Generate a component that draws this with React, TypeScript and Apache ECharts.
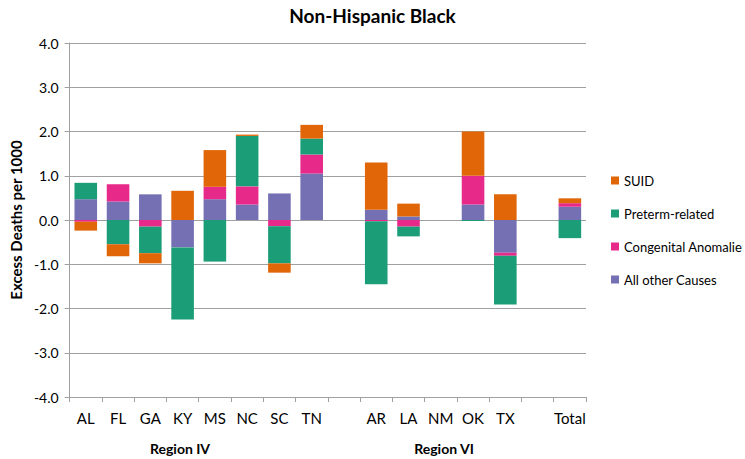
import React, { useEffect, useRef } from "react";
import * as echarts from "echarts";

const categories = ["AL", "FL", "GA", "KY", "MS", "NC", "SC", "TN", "", "AR", "LA", "NM", "OK", "TX", "", "Total"];
const allOther = [0.47, 0.42, 0.58, -0.62, 0.47, 0.35, 0.6, 1.05, null, 0.23, 0.08, null, 0.35, -0.74, null, 0.3];
const congenital = [-0.04, 0.39, -0.15, 0, 0.28, 0.41, -0.14, 0.43, null, -0.03, -0.15, null, 0.65, -0.07, null, 0.08];
const preterm = [0.37, -0.55, -0.6, -1.63, -0.94, 1.14, -0.84, 0.36, null, -1.42, -0.22, null, -0.02, -1.1, null, -0.41];
const suid = [-0.2, -0.27, -0.23, 0.66, 0.83, 0.03, -0.21, 0.31, null, 1.07, 0.29, null, 1.0, 0.58, null, 0.11];
const legendOrder = ["SUID", "Preterm-related", "Congenital Anomalie", "All other Causes"];
const regionLabels = ["Region IV", "Region VI"];

const FONT = "Lato, 'Open Sans', sans-serif";

export default function App() {
  const ref = useRef<HTMLDivElement>(null);
  useEffect(() => {
    document.body.style.margin = "0";
    if (!ref.current) return;
    const chart = echarts.init(ref.current, null, { renderer: "svg" });
    const mk = (name: string, data: (number | null)[], color: string) => ({
      name,
      type: "bar",
      stack: "total",
      data,
      barCategoryGap: "30%",
      itemStyle: { color },
    });
    chart.setOption({
      animation: false,
      textStyle: { fontFamily: FONT },
      title: {
        text: "Non-Hispanic Black",
        left: "center",
        top: 1,
        textStyle: { fontFamily: FONT, fontSize: 19, fontWeight: "bold", color: "#000" },
      },
      grid: { left: 58, right: 159, top: 43, bottom: 62, containLabel: false },
      legend: {
        orient: "vertical",
        left: 606,
        top: 169,
        itemWidth: 8,
        itemHeight: 8,
        itemGap: 20,
        icon: "rect",
        data: legendOrder,
        textStyle: { fontFamily: FONT, fontSize: 13, color: "#000" },
      },
      xAxis: {
        type: "category",
        data: categories,
        position: "bottom",
        axisLine: { onZero: false, lineStyle: { color: "#a0a0a0" } },
        axisTick: { show: true, length: 5, lineStyle: { color: "#a0a0a0" } },
        axisLabel: { interval: 0, margin: 13, fontSize: 15, color: "#000", fontFamily: FONT },
      },
      yAxis: {
        type: "value",
        min: -4,
        max: 4,
        interval: 1,
        name: "Excess Deaths per 1000",
        nameLocation: "middle",
        nameGap: 43,
        nameTextStyle: { fontFamily: FONT, fontSize: 15, fontWeight: "bold", color: "#000" },
        axisLine: { show: true, lineStyle: { color: "#a0a0a0" } },
        axisTick: { show: true, length: 5, lineStyle: { color: "#a0a0a0" } },
        axisLabel: { formatter: (v: number) => v.toFixed(1), fontSize: 14, color: "#000", margin: 11, fontFamily: FONT },
        splitLine: { lineStyle: { color: "#a0a0a0" } },
      },
      graphic: [
        { type: "text", x: 180, y: 448, style: { text: regionLabels[0], font: `bold 14px ${FONT}`, fill: "#000", align: "center", verticalAlign: "middle" } },
        { type: "text", x: 444, y: 448, style: { text: regionLabels[1], font: `bold 14px ${FONT}`, fill: "#000", align: "center", verticalAlign: "middle" } },
      ],
      series: [
        mk("All other Causes", allOther, "#7570b3"),
        mk("Congenital Anomalie", congenital, "#e7298a"),
        mk("Preterm-related", preterm, "#1b9e77"),
        mk("SUID", suid, "#e06608"),
      ],
    });
    return () => chart.dispose();
  }, []);
  return <div ref={ref} style={{ width: 745, height: 459 }} />;
}
